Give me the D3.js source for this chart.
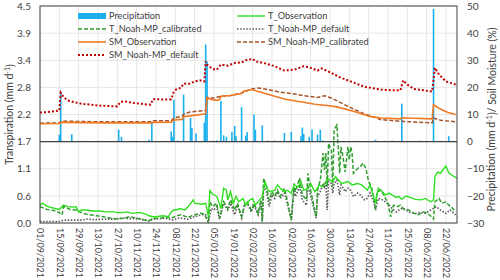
<!DOCTYPE html>
<html>
<head>
<meta charset="utf-8">
<script src="https://cdn.jsdelivr.net/npm/d3@7"></script>
<style>
body { margin: 0; background: #fff; }
svg text { font-family: Lato, "Liberation Sans", sans-serif; fill: #404040; }
</style>
</head>
<body>
<div id="chart"></div>
<script>
const width = 500
const height = 280
const startDate = new Date(2021, 8, 1)
const endDay = 302

// [days since 01/09/2021, value]
const precipitation = [[14,2.6],[15,18.5],[23,2.7],[30,0.3],[44,0.3],[57,4.4],[59,1.8],[66,0.3],[79,0.7],[81,7.1],[88,0.3],
  [95,3.8],[96,1.8],[97,15.5],[100,0.4],[104,17.3],[109,8.8],[110,5],[113,3],[119,7],[120,35.8],[121,29.5],[125,0.4],
  [128,0.5],[131,15],[133,2.3],[135,1.8],[139,3.6],[141,5.8],[142,2],[146,12.7],[149,2.2],[150,3.5],[155,10],[156,4.4],
  [161,6],[165,0.4],[170,0.4],[177,3.2],[182,3.6],[189,2],[190,5.2],[191,2.8],[195,1.8],[197,4.5],[201,2.6],[203,4.4],
  [205,0.4],[215,0.3],[230,0.3],[243,0.7],[250,0.3],[255,0.4],[262,14],[270,0.3],[275,0.4],[280,0.3],[285,48.9],[290,0.3],[296,2]]

const tObservation = [[0,0.37],[2,0.41],[5,0.35],[7,0.33],[11,0.30],[14,0.28],[17,0.37],[20,0.34],[24,0.33],[26,0.34],[28,0.23],
  [30,0.27],[34,0.27],[38,0.25],[43,0.25],[48,0.23],[53,0.23],[58,0.21],[63,0.23],[67,0.20],[72,0.22],[77,0.18],[79,0.15],
  [82,0.13],[84,0.13],[89,0.15],[93,0.13],[95,0.23],[97,0.27],[100,0.28],[101,0.30],[105,0.27],[107,0.33],[111,0.48],
  [112,0.41],[117,0.39],[120,0.41],[122,0.13],[123,0.67],[125,0.60],[128,0.55],[129,0.48],[131,0.30],[133,0.72],[135,0.68],
  [136,0.48],[138,0.65],[140,0.41],[142,0.55],[144,0.44],[147,0.51],[149,0.37],[152,0.48],[154,0.51],[156,0.37],[159,0.48],
  [161,0.55],[163,0.86],[165,0.68],[167,0.65],[170,0.68],[172,0.79],[174,0.72],[177,0.65],[179,0.68],[182,0.62],[184,0.79],
  [187,0.75],[189,0.86],[191,0.68],[194,0.72],[196,0.82],[199,0.65],[201,0.72],[202,0.79],[205,0.75],[207,0.86],[209,0.91],
  [212,0.86],[214,0.96],[217,0.86],[219,0.82],[223,0.86],[226,0.79],[230,0.82],[233,0.79],[237,0.68],[239,0.79],[242,0.51],
  [243,0.44],[245,0.72],[248,0.65],[250,0.58],[253,0.62],[255,0.58],[258,0.53],[260,0.55],[262,0.49],[265,0.56],[268,0.53],
  [272,0.49],[276,0.48],[279,0.51],[283,0.44],[285,0.48],[286,0.96],[288,1.06],[290,1.03],[292,1.11],[294,1.18],[296,1.04],
  [300,0.96],[302,0.93]]

const tCalibrated = [[0,0.34],[5,0.28],[10,0.26],[13,0.23],[16,0.17],[17,0.34],[22,0.28],[26,0.27],[31,0.20],[36,0.17],[41,0.15],
  [46,0.13],[51,0.10],[55,0.09],[60,0.10],[65,0.13],[70,0.10],[75,0.06],[79,0.05],[82,0.10],[87,0.09],[91,0.13],[95,0.10],
  [99,0.15],[102,0.17],[107,0.12],[112,0.17],[116,0.20],[119,0.19],[122,0.0],[123,0.44],[125,0.34],[128,0.41],[130,0.10],
  [133,0.44],[136,0.30],[138,0.48],[141,0.27],[143,0.41],[146,0.13],[148,0.37],[150,0.44],[153,0.27],[155,0.41],[158,0.20],
  [160,0.48],[161,0.03],[162,0.93],[164,0.75],[166,0.48],[168,0.65],[170,0.55],[172,0.68],[174,0.55],[177,0.72],[179,0.48],
  [182,0.06],[184,0.82],[185,0.65],[188,0.93],[190,0.58],[193,0.48],[194,1.03],[196,0.68],[198,0.41],[200,0.13],[201,0.68],
  [203,0.89],[205,1.45],[206,1.10],[207,1.45],[208,0.75],[209,1.65],[211,1.51],[212,0.75],[213,1.93],[215,2.03],[216,1.58],
  [217,1.03],[218,1.58],[219,1.45],[221,1.06],[223,1.58],[224,1.31],[225,1.58],[226,1.45],[227,1.03],[230,1.13],[232,1.17],
  [234,1.24],[236,1.13],[238,0.86],[240,0.75],[242,0.48],[243,0.27],[244,0.65],[247,0.68],[249,0.58],[252,0.41],[254,0.13],
  [256,0.37],[259,0.34],[261,0.37],[263,0.30],[267,0.27],[271,0.20],[274,0.17],[278,0.23],[282,0.17],[285,0.08],[286,0.44],
  [289,0.51],[291,0.41],[294,0.44],[296,0.37],[298,0.33],[301,0.23]]

const tDefault = [[0,0.03],[5,0.03],[10,0.03],[14,0.03],[16,0.05],[19,0.06],[25,0.06],[30,0.06],[34,0.08],[40,0.07],[48,0.08],
  [55,0.08],[60,0.10],[65,0.09],[72,0.09],[79,0.04],[82,0.08],[87,0.09],[91,0.10],[96,0.06],[100,0.10],[102,0.10],[107,0.08],
  [112,0.13],[117,0.17],[120,0.17],[122,0.03],[124,0.30],[126,0.27],[128,0.34],[130,0.08],[133,0.41],[136,0.27],[138,0.41],
  [141,0.17],[143,0.37],[146,0.10],[148,0.34],[150,0.41],[153,0.23],[155,0.37],[158,0.17],[160,0.41],[161,0.03],[162,0.75],
  [164,0.65],[166,0.34],[168,0.58],[170,0.51],[172,0.65],[174,0.51],[177,0.62],[179,0.41],[182,0.06],[184,0.68],[185,0.55],
  [188,0.75],[190,0.48],[193,0.37],[194,0.79],[196,0.58],[198,0.34],[200,0.10],[201,0.55],[203,0.65],[205,0.82],[206,0.75],
  [207,0.86],[208,0.27],[209,0.86],[211,0.82],[212,0.62],[213,0.82],[215,0.89],[216,0.75],[217,0.58],[218,0.79],[219,0.75],
  [221,0.65],[223,0.72],[225,0.68],[227,0.55],[230,0.62],[232,0.58],[235,0.48],[237,0.51],[239,0.62],[242,0.41],[243,0.27],
  [245,0.51],[248,0.48],[250,0.44],[253,0.37],[255,0.30],[258,0.23],[260,0.27],[262,0.30],[265,0.27],[268,0.22],[272,0.20],
  [276,0.22],[279,0.20],[283,0.27],[285,0.30],[287,0.34],[290,0.27],[294,0.20],[297,0.27],[301,0.17]]

const smObservation = [[0,6.6],[14,6.7],[16,7.1],[30,7.0],[50,6.9],[70,6.9],[81,6.9],[82,7.1],[95,7.2],[97,8.0],[103,8.2],
  [104,9.2],[110,9.6],[119,10.2],[120,10.4],[121,16.1],[124,15.5],[128,15.2],[130,15.5],[131,16.7],[138,17.0],[146,17.7],
  [147,18.5],[153,19.2],[158,18.5],[162,17.9],[170,16.7],[177,15.7],[184,15.1],[191,14.5],[199,13.8],[208,13.3],[215,12.8],
  [227,11.2],[239,9.3],[247,8.7],[261,8.4],[262,8.8],[270,8.6],[284,8.4],[285,13.6],[290,12.0],[295,10.8],[301,10.0]]

const smCalibrated = [[0,6.8],[14,6.9],[16,7.6],[30,7.4],[50,7.3],[70,7.3],[81,7.3],[82,7.7],[95,7.7],[97,8.7],[103,9.4],
  [104,10.0],[109,11.0],[119,11.4],[120,11.5],[121,16.3],[126,16.1],[131,16.7],[138,17.0],[146,17.9],[153,19.4],[158,19.8],
  [165,19.2],[174,18.2],[184,17.6],[194,16.7],[201,16.3],[206,16.9],[211,16.1],[223,13.0],[235,10.2],[247,8.1],[261,7.5],
  [284,6.9],[285,8.7],[290,7.9],[301,7.3]]

const smDefault = [[0,10.7],[5,10.9],[10,11.2],[14,11.4],[15,18.0],[17,16.5],[20,15.2],[25,14.5],[30,14.0],[40,13.4],[50,13.1],
  [56,13.0],[58,14.5],[61,14.9],[67,14.3],[75,13.8],[80,13.6],[82,15.7],[90,15.5],[95,15.6],[97,18.5],[99,19.4],[102,19.8],
  [104,21.4],[108,21.3],[112,22.2],[116,22.6],[119,22.2],[120,29.6],[121,28.4],[125,26.8],[128,26.5],[131,28.4],[136,28.0],
  [141,29.0],[146,29.2],[149,30.0],[154,30.5],[156,29.6],[162,29.0],[170,27.8],[177,26.2],[184,26.5],[191,27.8],[196,27.2],
  [201,26.2],[204,27.0],[211,25.3],[218,23.5],[225,22.2],[235,20.2],[247,19.2],[256,18.9],[261,18.9],[263,22.6],[266,21.0],
  [271,19.4],[278,18.9],[284,18.5],[286,27.2],[289,24.7],[294,22.2],[301,21.0]]

const leftTickLabels = ["0.0", "0.6", "1.1", "1.7", "2.2", "2.8", "3.4", "3.9", "4.5"]
const rightTickLabels = [-30, -20, -10, 0, 10, 20, 30, 40, 50]
const xTickDays = d3.range(0, 295, 14)

const legendNames = ["Precipitation", "T_Observation", "T_Noah-MP_calibrated", "T_Noah-MP_default",
  "SM_Observation", "SM_Noah-MP_calibrated", "SM_Noah-MP_default"]

const margin = {top: 6, right: 43, bottom: 57, left: 40}
const day = n => d3.timeDay.offset(startDate, n)

const x = d3.scaleTime()
  .domain([startDate, day(endDay)])
  .range([margin.left, width - margin.right])
const yLeft = d3.scaleLinear().domain([0, 4.5]).range([height - margin.bottom, margin.top])
const yRight = d3.scaleLinear().domain([-30, 50]).range([height - margin.bottom, margin.top])

const series = {
  "T_Observation": {data: tObservation, y: yLeft, color: "#2de01c", width: 1.4, dash: null},
  "T_Noah-MP_calibrated": {data: tCalibrated, y: yLeft, color: "#2f9e2f", width: 1.5, dash: "4,2"},
  "T_Noah-MP_default": {data: tDefault, y: yLeft, color: "#595959", width: 1.6, dash: "1.5,1.6"},
  "SM_Observation": {data: smObservation, y: yRight, color: "#f07a22", width: 1.6, dash: null},
  "SM_Noah-MP_calibrated": {data: smCalibrated, y: yRight, color: "#a5532a", width: 1.5, dash: "4,2"},
  "SM_Noah-MP_default": {data: smDefault, y: yRight, color: "#c00000", width: 2, dash: "2,2"}
}
const barColor = "#1ab0ee"

const svg = d3.select("#chart").append("svg")
  .attr("width", width)
  .attr("height", height)

const x0 = margin.left, x1 = width - margin.right
const yTop = margin.top, yBottom = height - margin.bottom

// gridlines
svg.append("g")
  .selectAll("line")
  .data(leftTickLabels)
  .join("line")
  .attr("x1", x0).attr("x2", x1)
  .attr("y1", (d, i) => yLeft(i * 4.5 / 8))
  .attr("y2", (d, i) => yLeft(i * 4.5 / 8))
  .attr("stroke", "#e6e6e6")

svg.append("g")
  .selectAll("line")
  .data(xTickDays)
  .join("line")
  .attr("x1", d => x(day(d))).attr("x2", d => x(day(d)))
  .attr("y1", yTop).attr("y2", yBottom)
  .attr("stroke", "#e6e6e6")

// precipitation bars
svg.append("g")
  .selectAll("rect")
  .data(precipitation)
  .join("rect")
  .attr("x", d => x(day(d[0])) - 0.8)
  .attr("width", 1.6)
  .attr("y", d => yRight(d[1]))
  .attr("height", d => yRight(0) - yRight(d[1]))
  .attr("fill", barColor)

// lines
const drawOrder = ["SM_Noah-MP_default", "SM_Noah-MP_calibrated", "SM_Observation",
  "T_Noah-MP_default", "T_Noah-MP_calibrated", "T_Observation"]
drawOrder.forEach(name => {
  const s = series[name]
  const line = d3.line()
    .x(d => x(day(d[0])))
    .y(d => s.y(d[1]))
  svg.append("path")
    .datum(s.data)
    .attr("d", line)
    .attr("fill", "none")
    .attr("stroke", s.color)
    .attr("stroke-width", s.width)
    .attr("stroke-dasharray", s.dash)
})

// frame and middle axis
svg.append("rect")
  .attr("x", x0).attr("y", yTop)
  .attr("width", x1 - x0).attr("height", yBottom - yTop)
  .attr("fill", "none")
  .attr("stroke", "#404040")
  .attr("stroke-width", 1)
svg.append("line")
  .attr("x1", x0).attr("x2", x1)
  .attr("y1", yRight(0)).attr("y2", yRight(0))
  .attr("stroke", "#404040")
  .attr("stroke-width", 1.2)

// axes
const leftAxis = svg.append("g")
  .attr("transform", `translate(${x0},0)`)
  .call(d3.axisLeft(yLeft)
    .tickValues(leftTickLabels.map((d, i) => i * 4.5 / 8))
    .tickFormat((d, i) => leftTickLabels[i])
    .tickSize(0).tickPadding(9))
const rightAxis = svg.append("g")
  .attr("transform", `translate(${x1},0)`)
  .call(d3.axisRight(yRight)
    .tickValues(rightTickLabels)
    .tickSize(0).tickPadding(10))
const bottomAxis = svg.append("g")
  .attr("transform", `translate(0,${yBottom})`)
  .call(d3.axisBottom(x)
    .tickValues(xTickDays.map(day))
    .tickFormat(d3.timeFormat("%d/%m/%Y"))
    .tickSize(0))

;[leftAxis, rightAxis, bottomAxis].forEach(a => {
  a.select(".domain").remove()
  a.selectAll("text").style("font-size", "10px").style("fill", "#404040")
})
bottomAxis.selectAll("text")
  .attr("transform", "rotate(90)")
  .attr("x", 5).attr("y", 0)
  .attr("dy", "0.35em")
  .style("text-anchor", "start")
  .style("font-size", "9px")

// axis titles
const leftTitle = svg.append("text")
  .attr("transform", `translate(9,${(yTop + yBottom) / 2}) rotate(-90)`)
  .attr("text-anchor", "middle")
  .attr("dy", "0.35em")
  .style("font-size", "10.5px")
leftTitle.append("tspan").text("Transpiration (mm d")
leftTitle.append("tspan").attr("dy", "-0.4em").style("font-size", "7px").text("-1")
leftTitle.append("tspan").attr("dy", "0.4em").text(")")

const rightTitle = svg.append("text")
  .attr("transform", `translate(491,${(yTop + yBottom) / 2 + 5}) rotate(-90)`)
  .attr("text-anchor", "middle")
  .attr("dy", "0.35em")
  .style("font-size", "10.5px")
rightTitle.append("tspan").text("Precipitation (mm d")
rightTitle.append("tspan").attr("dy", "-0.4em").style("font-size", "7px").text("-1")
rightTitle.append("tspan").attr("dy", "0.4em").text(")/ Soil Moisture (%)")

// legend
const legend = svg.append("g")
const colX = [78, 237]
legendNames.forEach((name, i) => {
  const lx = colX[i % 2]
  const ly = 16 + Math.floor(i / 2) * 13
  if (name === "Precipitation") {
    legend.append("rect")
      .attr("x", lx).attr("y", ly - 3)
      .attr("width", 28).attr("height", 6)
      .attr("fill", barColor)
  } else {
    const s = series[name]
    legend.append("line")
      .attr("x1", lx).attr("x2", lx + 28)
      .attr("y1", ly).attr("y2", ly)
      .attr("stroke", s.color)
      .attr("stroke-width", s.width)
      .attr("stroke-dasharray", s.dash)
  }
  legend.append("text")
    .attr("x", lx + 31).attr("y", ly)
    .attr("dy", "0.35em")
    .style("font-size", "9.2px")
    .text(name)
})
</script>
</body>
</html>
